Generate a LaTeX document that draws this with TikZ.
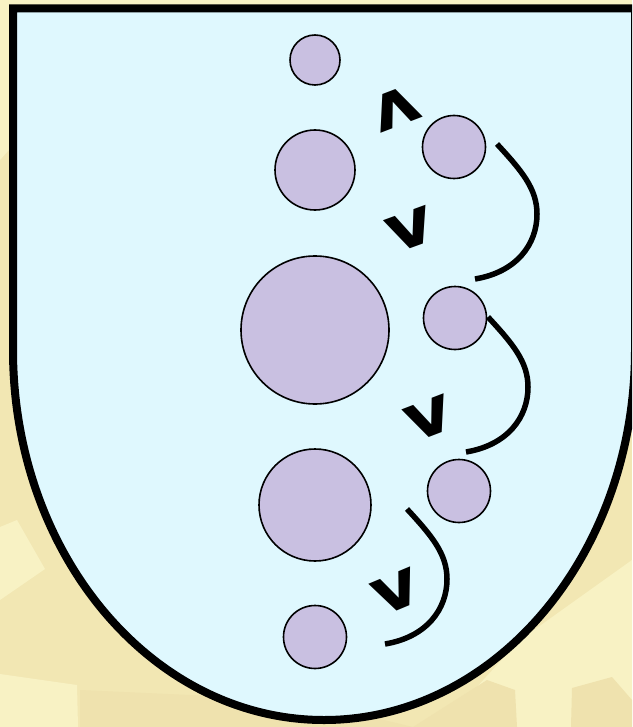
\documentclass[tikz,border=0pt]{standalone}
\usepackage{fontspec}
\newfontfamily\glyphfont{DejaVu Sans}
\definecolor{bgbase}{HTML}{F2E7B3}
\definecolor{bglight}{HTML}{F8F2C4}
\definecolor{bgdark}{HTML}{EFE2AE}
\definecolor{shieldfill}{HTML}{DFF8FE}
\definecolor{cellfill}{HTML}{C9C0E1}
\begin{document}
\begin{tikzpicture}[x=1pt,y=-1pt,
  cell/.style={circle,draw=black,line width=1.6pt,fill=cellfill,inner sep=0pt},
  swapline/.style={draw=black,line width=5.5pt,line cap=butt},
  cmp/.style={inner sep=0pt,font=\fontsize{65pt}{65pt}\selectfont\glyphfont\bfseries},
  shieldline/.style={draw=black,line width=8pt,miter limit=10,fill=shieldfill}]
\useasboundingbox (0,0) rectangle (632,727);
\clip (0,0) rectangle (632,727);
% background
\fill[bgbase] (0,0) rectangle (632,727);
\fill[bglight] (0,0) rectangle (632,30);
\fill[bglight] (0,30) -- (9,30) -- (9,150) -- (0,160) -- cycle;
\fill[bglight] (0,527) -- (17,520) -- (45,569) -- (0,600) -- cycle;
\fill[bglight] (0,674) -- (77,685) -- (78,727) -- (0,727) -- cycle;
\fill[bglight] (440,727) -- (520,640) -- (632,560) -- (632,727) -- cycle;
\fill[bgdark] (413,727) -- (487,680) -- (515,690) -- (517,727) -- cycle;
\fill[bgdark] (571,727) -- (572,688) -- (612,677) -- (632,700) -- (632,727) -- cycle;
\fill[bgdark] (80,727) -- (80,690) -- (300,700) -- (413,727) -- cycle;
% shield
\draw[shieldline] (13,8.5) -- (635,8.5) -- (635,350)
  arc[start angle=0,end angle=180,x radius=311,y radius=370] -- cycle;
% cells
\node[cell,minimum size=50pt]  (c1) at (315,60)  {};
\node[cell,minimum size=80pt]  (c2) at (315,170) {};
\node[cell,minimum size=148pt] (c3) at (315,330) {};
\node[cell,minimum size=112pt] (c4) at (315,505) {};
\node[cell,minimum size=63pt]  (c5) at (315,637) {};
\node[cell,minimum size=63pt]  (r1) at (454,147) {};
\node[cell,minimum size=63pt]  (r2) at (455,318) {};
\node[cell,minimum size=63pt]  (r3) at (459,491) {};
% swap curves
\begin{scope}[shift={(497,144)}]
  \coordinate (a1) at (0,0); \coordinate (m1) at (40,70); \coordinate (b1) at (-22,135);
  \draw[swapline] (a1) .. controls (25,27) and (40,45) .. (m1)
    .. controls (40,100) and (20,128) .. (b1);
\end{scope}
\begin{scope}[shift={(488,317)}]
  \coordinate (a2) at (0,0); \coordinate (m2) at (40,70); \coordinate (b2) at (-22,135);
  \draw[swapline] (a2) .. controls (25,27) and (40,45) .. (m2)
    .. controls (40,100) and (20,128) .. (b2);
\end{scope}
\begin{scope}[shift={(407,509)}]
  \coordinate (a3) at (0,0); \coordinate (m3) at (40,70); \coordinate (b3) at (-22,135);
  \draw[swapline] (a3) .. controls (25,27) and (40,45) .. (m3)
    .. controls (40,100) and (20,128) .. (b3);
\end{scope}
% comparison marks
\node[cmp,rotate=201]  (k0) at (396,109) {\scalebox{1.12}[1]{v}};
\node[cmp,rotate=20]   (k1) at (411,230) {\scalebox{1.12}[1]{v}};
\node[cmp,rotate=21]   (k2) at (429,418) {\scalebox{1.12}[1]{v}};
\node[cmp,rotate=22.7] (k3) at (397,592) {\scalebox{1.12}[1]{v}};
\end{tikzpicture}
\end{document}
